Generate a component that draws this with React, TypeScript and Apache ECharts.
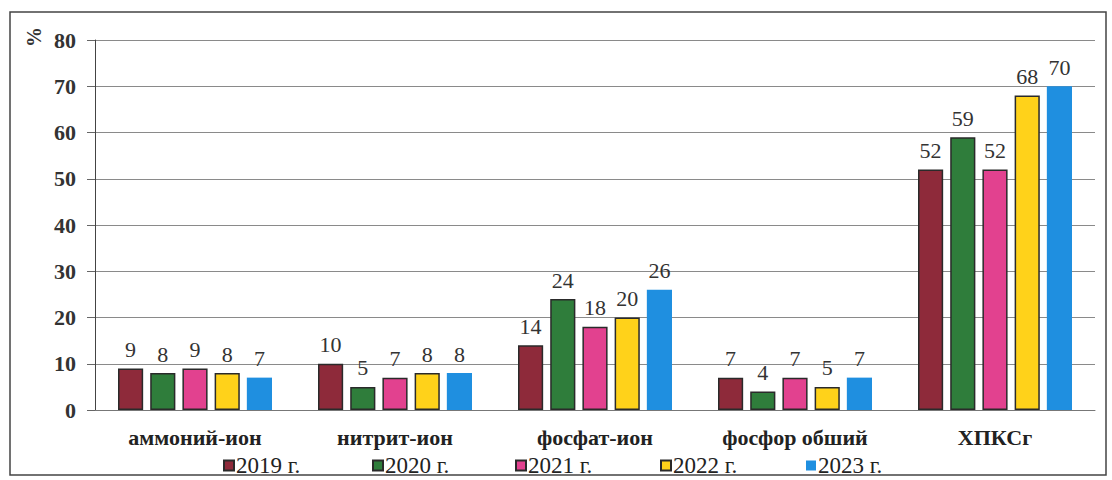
import React, { useEffect, useRef } from "react";
import * as echarts from "echarts";

const categories = ["аммоний-ион", "нитрит-ион", "фосфат-ион", "фосфор обший", "ХПКСг"];
const years = ["2019 г.", "2020 г.", "2021 г.", "2022 г.", "2023 г."];
const values2019 = [9, 10, 14, 7, 52];
const values2020 = [8, 5, 24, 4, 59];
const values2021 = [9, 7, 18, 7, 52];
const values2022 = [8, 8, 20, 5, 68];
const values2023 = [7, 8, 26, 7, 70];
const seriesValues = [values2019, values2020, values2021, values2022, values2023];
const colors = ["#8e2a3a", "#2f7d3b", "#e2418f", "#ffd21a", "#1f8fe0"];
const yTicks = { min: 0, max: 80, interval: 10 };

// horizontal offsets of the individual legend entries
const legendLefts = [223, 372, 515, 660, 806];

const SERIF = "Liberation Serif";

export default function App() {
  const ref = useRef<HTMLDivElement>(null);

  useEffect(() => {
    if (!ref.current) return;
    const chart = echarts.init(ref.current, null, { renderer: "svg" });
    chart.setOption({
      animation: false,
      backgroundColor: "#ffffff",
      textStyle: { fontFamily: SERIF },
      grid: { left: 95, right: 17, top: 40, bottom: 70 },
      legend: years.map((y, i) => ({
        data: [y],
        left: legendLefts[i],
        top: 454,
        padding: 0,
        itemWidth: 10,
        itemHeight: 10,
        itemGap: 0,
        icon: "rect",
        textStyle: { fontFamily: SERIF, fontSize: 23, color: "#222", padding: [0, 0, 0, -3] },
      })),
      xAxis: {
        type: "category",
        data: categories,
        axisLine: { lineStyle: { color: "#777", width: 1 } },
        axisTick: { show: false },
        axisLabel: {
          fontFamily: SERIF,
          fontSize: 22,
          fontWeight: "bold",
          color: "#222",
          margin: 16,
        },
      },
      yAxis: {
        type: "value",
        min: yTicks.min,
        max: yTicks.max,
        interval: yTicks.interval,
        axisLine: { show: true, lineStyle: { color: "#444", width: 1 } },
        axisTick: { show: true, length: 8, lineStyle: { color: "#666" } },
        splitLine: { lineStyle: { color: "#8a8a8a", width: 1 } },
        axisLabel: {
          fontFamily: SERIF,
          fontSize: 22,
          fontWeight: "bold",
          color: "#333",
          margin: 19,
        },
      },
      series: seriesValues.map((vals, i) => ({
        name: years[i],
        type: "bar",
        data: vals,
        barGap: "28%",
        barCategoryGap: "23%",
        itemStyle: {
          color: colors[i],
          borderColor: i === 4 ? colors[i] : "#2a2a2a",
          borderWidth: i === 4 ? 0 : 1.5,
        },
        label: {
          show: true,
          position: "top",
          distance: 8,
          fontFamily: SERIF,
          fontSize: 22,
          color: "#333",
        },
      })),
      graphic: [
        {
          type: "rect",
          shape: { x: 10, y: 12, width: 1096, height: 463 },
          style: { fill: "none", stroke: "#444", lineWidth: 1.5 },
          silent: true,
        },
        {
          type: "text",
          x: 24,
          y: 47,
          rotation: Math.PI / 2,
          style: {
            text: "%",
            fontFamily: SERIF,
            fontSize: 20,
            fontWeight: "bold",
            fill: "#333",
          },
        },
      ],
    });
    return () => chart.dispose();
  }, []);

  return (
    <div
      ref={ref}
      style={{ position: "absolute", left: 0, top: 0, width: 1112, height: 480 }}
    />
  );
}
